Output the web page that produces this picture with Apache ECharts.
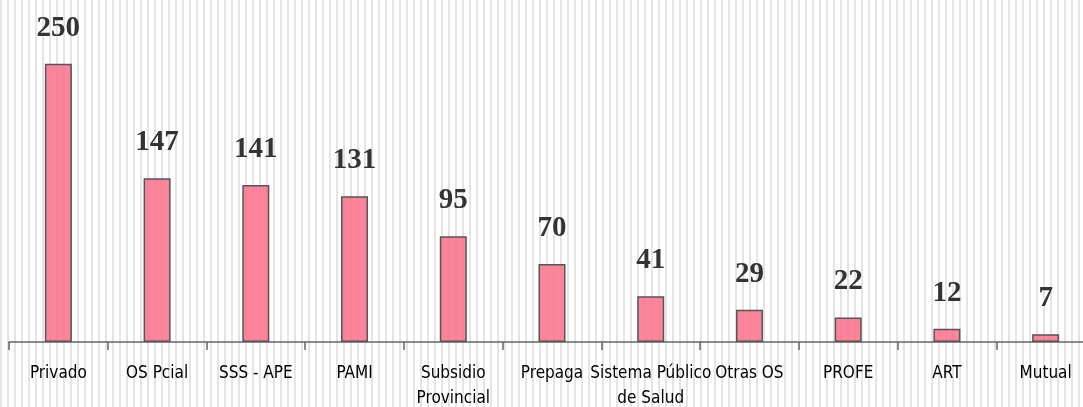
<!DOCTYPE html>
<html>
<head>
<meta charset="utf-8">
<script src="https://cdn.jsdelivr.net/npm/echarts@6/dist/echarts.min.js"></script>
<style>
  html, body { margin: 0; padding: 0; background: #fff; }
  #chart {
    width: 1083px; height: 407px;
    background: repeating-linear-gradient(90deg, #e4e4e4 0px, #e4e4e4 2.5px, #ffffff 2.5px, #ffffff 7px);
  }
</style>
</head>
<body>
<div id="chart"></div>
<script>
// Cobertura de salud: cantidad por tipo de financiador
const categories = ['Privado', 'OS Pcial', 'SSS - APE', 'PAMI', 'Subsidio\nProvincial', 'Prepaga',
  'Sistema Público\nde Salud', 'Otras OS', 'PROFE', 'ART', 'Mutual'];
const values = [250, 147, 141, 131, 95, 70, 41, 29, 22, 12, 7];

const chart = echarts.init(document.getElementById('chart'), null, { renderer: 'canvas' });
chart.setOption({
  backgroundColor: 'transparent',
  animation: false,
  grid: { left: 9, top: 8, width: 1086, bottom: 65, containLabel: false, outerBoundsMode: 'none' },
  xAxis: {
    type: 'category',
    data: categories,
    boundaryGap: true,
    axisLine: { lineStyle: { color: '#666', width: 1.5 } },
    axisTick: { show: true, length: 8, lineStyle: { color: '#666', width: 1.5 } },
    axisLabel: {
      interval: 0,
      margin: 19,
      color: '#000',
      fontFamily: '"DejaVu Sans Condensed", "Liberation Sans Narrow", sans-serif',
      fontSize: 17,
      lineHeight: 25,
      verticalAlign: 'top'
    }
  },
  yAxis: {
    type: 'value',
    min: 0,
    max: 300,
    show: false,
    splitLine: { show: false }
  },
  series: [{
    type: 'bar',
    data: values,
    barWidth: 27,
    itemStyle: {
      color: 'rgba(249, 116, 141, 0.88)',
      borderColor: '#555',
      borderWidth: 1.5
    },
    label: {
      show: true,
      position: 'top',
      distance: 21,
      color: '#333',
      fontFamily: '"Liberation Serif", "DejaVu Serif", serif',
      fontWeight: 'bold',
      fontSize: 29
    }
  }]
});
</script>
</body>
</html>
